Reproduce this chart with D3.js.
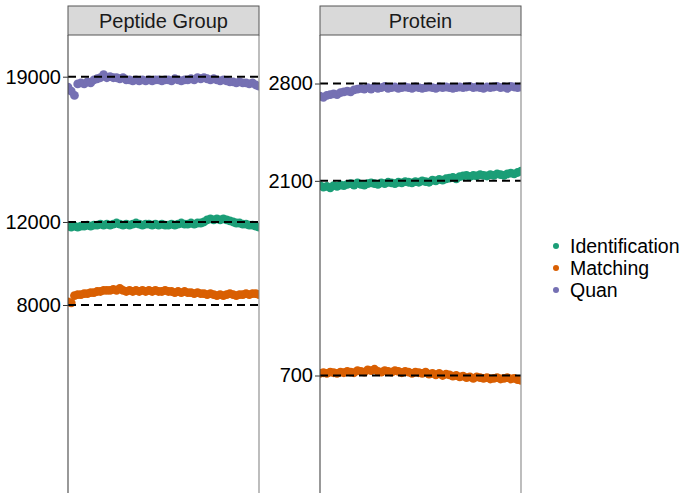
<!DOCTYPE html>
<html>
<head>
<meta charset="utf-8">
<script src="https://cdn.jsdelivr.net/npm/d3@7"></script>
<style>
  html, body { margin: 0; padding: 0; background: #fff; }
  svg { display: block; font-family: "Liberation Sans", Arial, sans-serif; }
</style>
</head>
<body>
<svg id="chart" width="683" height="493"></svg>
<script>
// ---------------- DATA ----------------
const panels = ["Peptide Group", "Protein"];
const seriesNames = ["Identification", "Matching", "Quan"];
const seriesColors = ["#1B9E77", "#D95F02", "#7570B3"];

const pepTicks = [8000, 12000, 19000];
const protTicks = [700, 2100, 2800];

// reference (dashed) levels per panel
const pepRefs = [12000, 8000, 19000];
const protRefs = [2100, 700, 2800];

const pepIdentification = [11800,11750,11800,11750,11800,11800,11850,11800,11850,11850,11900,11850,11900,11850,11900,11950,11900,11850,11900,11850,11900,11950,11900,11850,11900,11900,11850,11900,11850,11900,11850,11850,11900,11850,11900,11950,11900,11900,11950,11900,11950,11950,12000,12100,12150,12100,12150,12100,12150,12100,12050,12000,11950,11950,11900,11900,11850,11850,11800,11750];
const pepMatching = [8150,8100,8450,8500,8500,8550,8550,8600,8600,8650,8650,8700,8700,8700,8750,8700,8800,8700,8650,8700,8650,8700,8650,8700,8650,8700,8650,8700,8650,8650,8700,8650,8650,8600,8650,8600,8650,8600,8600,8550,8600,8550,8550,8500,8550,8500,8450,8500,8450,8500,8550,8500,8450,8500,8500,8550,8500,8550,8550,8500];
const pepQuan = [18500,18300,18100,18650,18700,18650,18750,18700,18850,18900,18950,19100,18950,19000,18950,18950,18900,18950,18850,18850,18800,18850,18800,18850,18800,18850,18800,18850,18850,18800,18850,18850,18800,18900,18850,18800,18850,18850,18900,18850,18950,18900,18950,18900,18850,18900,18850,18800,18850,18800,18750,18750,18700,18750,18700,18700,18650,18700,18600,18550];

const protIdentification = [2065,2055,2060,2050,2065,2060,2070,2065,2075,2080,2070,2085,2075,2070,2080,2085,2080,2075,2085,2080,2090,2085,2080,2090,2085,2095,2090,2085,2095,2090,2100,2095,2090,2105,2100,2110,2105,2115,2120,2125,2115,2130,2135,2140,2130,2140,2135,2145,2140,2135,2145,2140,2150,2145,2140,2150,2155,2150,2160,2170];
const protMatching = [715,720,715,725,720,715,725,720,730,725,720,735,730,725,740,735,745,730,725,735,730,725,735,730,720,730,725,715,725,720,715,725,710,715,705,715,700,710,705,695,700,690,695,685,690,680,690,685,680,685,675,680,685,675,680,685,675,680,670,665];
const protQuan = [2710,2700,2715,2720,2725,2720,2735,2740,2745,2740,2755,2760,2765,2760,2770,2760,2775,2765,2770,2780,2765,2770,2775,2765,2770,2775,2770,2765,2775,2770,2765,2770,2775,2770,2765,2775,2770,2775,2770,2765,2770,2775,2770,2775,2780,2770,2775,2770,2765,2775,2770,2775,2780,2770,2775,2765,2780,2775,2770,2775];

// ---------------- LAYOUT ----------------
const svg = d3.select("#chart");
const stripTop = 6, stripH = 29;
const panelTop = stripTop + stripH, panelBottom = 493;
const FONT = '"Liberation Sans", Arial, sans-serif';

const panelDefs = [
  { name: panels[0], x0: 68, x1: 259, domain: [-1058, 21009], ticks: pepTicks, refs: pepRefs,
    series: [pepIdentification, pepMatching, pepQuan] },
  { name: panels[1], x0: 320, x1: 521, domain: [-145, 3149], ticks: protTicks, refs: protRefs,
    series: [protIdentification, protMatching, protQuan] }
];

panelDefs.forEach((p, pi) => {
  const y = d3.scaleLinear().domain(p.domain).range([panelBottom, panelTop]);
  const n = p.series[0].length;
  const x = d3.scaleLinear().domain([0, n - 1]).range([p.x0, p.x1]);

  const clipId = "clip" + pi;
  svg.append("clipPath").attr("id", clipId)
    .append("rect").attr("x", p.x0).attr("y", panelTop)
    .attr("width", p.x1 - p.x0).attr("height", panelBottom + 10 - panelTop);

  const g = svg.append("g");
  g.append("rect").attr("x", p.x0).attr("y", panelTop)
    .attr("width", p.x1 - p.x0).attr("height", panelBottom + 10 - panelTop)
    .attr("fill", "#fff");

  const plot = g.append("g").attr("clip-path", `url(#${clipId})`);
  p.series.forEach((vals, si) => {
    plot.append("g").selectAll("circle").data(vals).join("circle")
      .attr("cx", (d, i) => x(i))
      .attr("cy", d => y(d))
      .attr("r", 4.4)
      .attr("fill", seriesColors[si]);
  });

  plot.append("g").selectAll("line").data(p.refs).join("line")
    .attr("x1", p.x0).attr("x2", p.x1)
    .attr("y1", d => y(d)).attr("y2", d => y(d))
    .attr("stroke", "#000").attr("stroke-width", 2)
    .attr("stroke-dasharray", "8,5");

  const axis = d3.axisLeft(y).tickValues(p.ticks).tickSize(5).tickPadding(2)
    .tickFormat(d3.format("d"));
  const ag = g.append("g").attr("transform", `translate(${p.x0},0)`).call(axis);
  ag.select(".domain").remove();
  ag.selectAll(".tick line").attr("stroke", "#333").attr("stroke-width", 1);
  ag.selectAll(".tick text").attr("fill", "#000").style("font-size", "20px")
    .style("font-family", FONT);

  g.append("line").attr("x1", p.x0).attr("x2", p.x0).attr("y1", panelTop).attr("y2", panelBottom + 10)
    .attr("stroke", "#444").attr("stroke-width", 1.1);
  g.append("line").attr("x1", p.x1).attr("x2", p.x1).attr("y1", panelTop).attr("y2", panelBottom + 10)
    .attr("stroke", "#888").attr("stroke-width", 1.1);

  g.append("rect").attr("x", p.x0).attr("y", stripTop)
    .attr("width", p.x1 - p.x0).attr("height", stripH)
    .attr("fill", "#D9D9D9").attr("stroke", "#555").attr("stroke-width", 1);
  g.append("text").attr("x", (p.x0 + p.x1) / 2).attr("y", stripTop + stripH / 2 + 7)
    .attr("text-anchor", "middle").style("font-size", "20px").attr("fill", "#1a1a1a")
    .text(p.name);
});

// legend
const lg = svg.append("g").attr("transform", "translate(556,246)");
const items = lg.selectAll("g").data(seriesNames).join("g")
  .attr("transform", (d, i) => `translate(0,${i * 22})`);
items.append("circle").attr("r", 3).attr("fill", (d, i) => seriesColors[i]);
items.append("text").attr("x", 14).attr("y", 7).style("font-size", "19.5px").attr("fill", "#000")
  .text(d => d);
</script>
</body>
</html>
